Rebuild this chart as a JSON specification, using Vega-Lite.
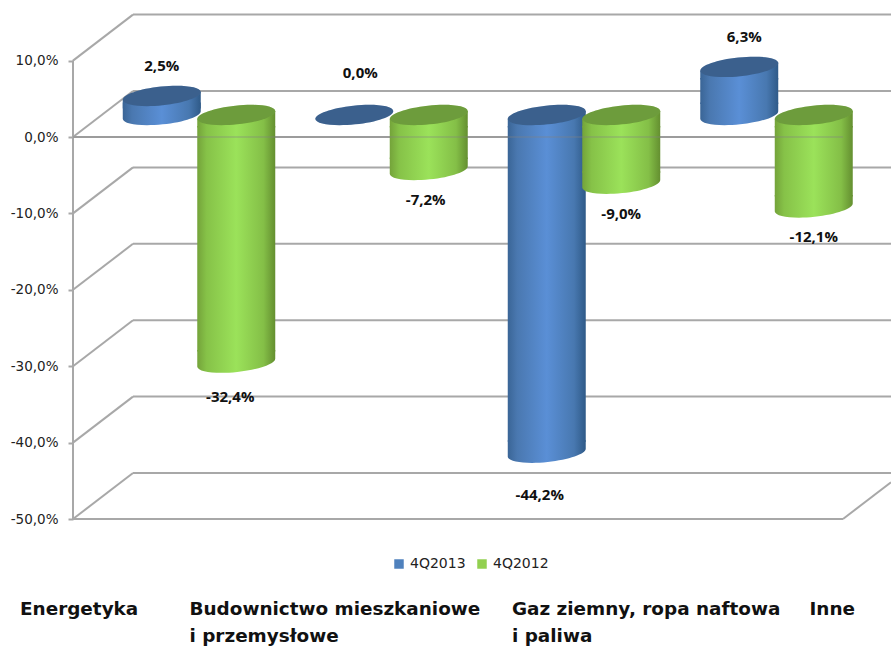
{
"$schema":"https://vega.github.io/schema/vega-lite/v6.json",
"width":818,"height":504,
"autosize":{"type":"none"},
"padding":{"left":73,"top":15,"right":0,"bottom":127},
"background":"white",
"config":{"view":{"stroke":null}},
"data":{"values":[
{"cat":"Energetyka","series":"4Q2013","value":2.5,"label":"2,5%"},
{"cat":"Energetyka","series":"4Q2012","value":-32.4,"label":"-32,4%"},
{"cat":"Budownictwo","series":"4Q2013","value":0.0,"label":"0,0%"},
{"cat":"Budownictwo","series":"4Q2012","value":-7.2,"label":"-7,2%"},
{"cat":"Gaz","series":"4Q2013","value":-44.2,"label":"-44,2%"},
{"cat":"Gaz","series":"4Q2012","value":-9.0,"label":"-9,0%"},
{"cat":"Inne","series":"4Q2013","value":6.3,"label":"6,3%"},
{"cat":"Inne","series":"4Q2012","value":-12.1,"label":"-12,1%"}
]},
"resolve":{"scale":{"x":"independent"}},
"layer":[
{"data":{"values":[
{"a":0,"b":60,"v":10,"w":16.02},{"a":0,"b":60,"v":0,"w":6.02},{"a":0,"b":60,"v":-10,"w":-3.98},{"a":0,"b":60,"v":-20,"w":-13.98},{"a":0,"b":60,"v":-30,"w":-23.98},{"a":0,"b":60,"v":-40,"w":-33.98},{"a":0,"b":60,"v":-50,"w":-43.98},
{"a":60,"b":818,"v":16.02,"w":16.02},{"a":60,"b":818,"v":6.02,"w":6.02},{"a":60,"b":818,"v":-3.98,"w":-3.98},{"a":60,"b":818,"v":-13.98,"w":-13.98},{"a":60,"b":818,"v":-23.98,"w":-23.98},{"a":60,"b":818,"v":-33.98,"w":-33.98},{"a":60,"b":818,"v":-43.98,"w":-43.98},
{"a":0,"b":0,"v":10,"w":-50},{"a":0,"b":770,"v":0,"w":0},{"a":0,"b":770,"v":-50,"w":-50},{"a":770,"b":818,"v":-50,"w":-45.18}
]},
"mark":{"type":"rule","stroke":"#a8a8a8","strokeWidth":2,"clip":false},
"encoding":{
"x":{"field":"a","type":"quantitative","scale":{"domain":[0,818],"nice":false,"zero":false},"axis":null},
"x2":{"field":"b"},
"y":{"field":"v","type":"quantitative","scale":{"domain":[-50,15.97],"nice":false,"zero":false},
"axis":{"title":null,"grid":false,"domain":false,"values":[10,0,-10,-20,-30,-40,-50],"tickColor":"#a8a8a8","tickWidth":2,"tickSize":5,"labelFont":"DejaVu Sans","labelFontSize":13.5,"labelColor":"#222222","labelPadding":10,"labelExpr":"replace(replace(format(datum.value,'.1f'),'.',','),'−','-')+'%'"}},
"y2":{"field":"w"}
}},
{"encoding":{
"x":{"field":"cat","type":"nominal","scale":{"domain":["Energetyka","Budownictwo","Gaz","Inne"],"range":[29.75,799.75],"paddingInner":0,"paddingOuter":0},"axis":null},
"xOffset":{"field":"series","type":"nominal","scale":{"domain":["4Q2013","4Q2012"],"range":[21.75,170.75],"paddingInner":0,"paddingOuter":0}},
"y":{"field":"value","type":"quantitative"}
},
"layer":[
{"transform":[{"filter":"datum.series=='4Q2013' && datum.value<0"}],
"mark":{"type":"point","filled":true,"opacity":1,"size":6147,"yOffset":-22,"shape":"M0.9945,-0.1045 C1.008,0.0278 0.574,0.181 0.0251,0.2387 C-0.524,0.2964 -0.981,0.2368 -0.9945,0.1045 L-0.9945,-0.32 L0.9945,-0.32 Z",
"fill":{"x1":0,"y1":0,"x2":1,"y2":0,"gradient":"linear","stops":[{"offset":0,"color":"#3a6596"},{"offset":0.12,"color":"#4a78b0"},{"offset":0.5,"color":"#5a8fd6"},{"offset":0.85,"color":"#4878b0"},{"offset":1,"color":"#2f5a88"}]}}},
{"transform":[{"filter":"datum.series=='4Q2013' && datum.value>0"}],
"mark":{"type":"point","filled":true,"opacity":1,"size":6147,"yOffset":-22,"shape":"M0.9945,-0.1045 C1.008,0.0278 0.574,0.181 0.0251,0.2387 C-0.524,0.2964 -0.981,0.2368 -0.9945,0.1045 L-0.9945,-0.32 L0.9945,-0.32 Z",
"fill":{"x1":0,"y1":0,"x2":1,"y2":0,"gradient":"linear","stops":[{"offset":0,"color":"#3a6596"},{"offset":0.12,"color":"#4a78b0"},{"offset":0.5,"color":"#5a8fd6"},{"offset":0.85,"color":"#4878b0"},{"offset":1,"color":"#2f5a88"}]}},
"encoding":{"y":{"datum":0,"type":"quantitative"}}},
{"transform":[{"filter":"datum.series=='4Q2013' && abs(datum.value)>3"}],
"mark":{"type":"bar","width":78,"yOffset":{"expr":"datum.value>0?-11:-33"},"y2Offset":{"expr":"datum.value>0?-33:-11"},
"fill":{"x1":0,"y1":0,"x2":1,"y2":0,"gradient":"linear","stops":[{"offset":0,"color":"#3a6596"},{"offset":0.12,"color":"#4a78b0"},{"offset":0.5,"color":"#5a8fd6"},{"offset":0.85,"color":"#4878b0"},{"offset":1,"color":"#2f5a88"}]}},
"encoding":{"y2":{"datum":0}}},
{"transform":[{"filter":"datum.series=='4Q2013' && datum.value>0"}],
"mark":{"type":"point","filled":true,"opacity":1,"size":6147,"yOffset":-22,"shape":"M-0.9945,0.1045 L0.9945,-0.1045 L0.9945,0.32 L-0.9945,0.32 Z",
"fill":{"x1":0,"y1":0,"x2":1,"y2":0,"gradient":"linear","stops":[{"offset":0,"color":"#3a6596"},{"offset":0.12,"color":"#4a78b0"},{"offset":0.5,"color":"#5a8fd6"},{"offset":0.85,"color":"#4878b0"},{"offset":1,"color":"#2f5a88"}]}}},
{"transform":[{"filter":"datum.series=='4Q2013' && datum.value<0"}],
"mark":{"type":"point","filled":true,"opacity":1,"size":6147,"yOffset":-22,"shape":"M-0.9945,0.1045 L0.9945,-0.1045 L0.9945,0.32 L-0.9945,0.32 Z",
"fill":{"x1":0,"y1":0,"x2":1,"y2":0,"gradient":"linear","stops":[{"offset":0,"color":"#3a6596"},{"offset":0.12,"color":"#4a78b0"},{"offset":0.5,"color":"#5a8fd6"},{"offset":0.85,"color":"#4878b0"},{"offset":1,"color":"#2f5a88"}]}},
"encoding":{"y":{"datum":0,"type":"quantitative"}}},

{"transform":[{"filter":"datum.series=='4Q2012' && datum.value<0"}],
"mark":{"type":"point","filled":true,"opacity":1,"size":6147,"yOffset":-22,"shape":"M0.9945,-0.1045 C1.008,0.0278 0.574,0.181 0.0251,0.2387 C-0.524,0.2964 -0.981,0.2368 -0.9945,0.1045 L-0.9945,-0.32 L0.9945,-0.32 Z",
"fill":{"x1":0,"y1":0,"x2":1,"y2":0,"gradient":"linear","stops":[{"offset":0,"color":"#74a33a"},{"offset":0.12,"color":"#86c248"},{"offset":0.5,"color":"#9be25a"},{"offset":0.85,"color":"#84bf47"},{"offset":1,"color":"#648f30"}]}}},
{"transform":[{"filter":"datum.series=='4Q2012' && abs(datum.value)>3"}],
"mark":{"type":"bar","width":78,"yOffset":{"expr":"datum.value>0?-11:-33"},"y2Offset":{"expr":"datum.value>0?-33:-11"},
"fill":{"x1":0,"y1":0,"x2":1,"y2":0,"gradient":"linear","stops":[{"offset":0,"color":"#74a33a"},{"offset":0.12,"color":"#86c248"},{"offset":0.5,"color":"#9be25a"},{"offset":0.85,"color":"#84bf47"},{"offset":1,"color":"#648f30"}]}},
"encoding":{"y2":{"datum":0}}},
{"transform":[{"filter":"datum.series=='4Q2012' && datum.value<0"}],
"mark":{"type":"point","filled":true,"opacity":1,"size":6147,"yOffset":-22,"shape":"M-0.9945,0.1045 L0.9945,-0.1045 L0.9945,0.32 L-0.9945,0.32 Z",
"fill":{"x1":0,"y1":0,"x2":1,"y2":0,"gradient":"linear","stops":[{"offset":0,"color":"#74a33a"},{"offset":0.12,"color":"#86c248"},{"offset":0.5,"color":"#9be25a"},{"offset":0.85,"color":"#84bf47"},{"offset":1,"color":"#648f30"}]}},
"encoding":{"y":{"datum":0,"type":"quantitative"}}},

{"transform":[{"filter":"datum.value>=0"}],
"mark":{"type":"point","filled":true,"opacity":1,"size":6147,"yOffset":-22,"shape":"M0.9945,-0.1045 C1.008,0.0278 0.574,0.181 0.0251,0.2387 C-0.524,0.2964 -0.981,0.2368 -0.9945,0.1045 C-1.008,-0.0278 -0.574,-0.181 -0.0251,-0.2387 C0.524,-0.2964 0.981,-0.2368 0.9945,-0.1045 Z"},
"encoding":{"color":{"field":"series","type":"nominal","scale":{"domain":["4Q2013","4Q2012"],"range":["#4f81bd","#92d050"]},"legend":{"title":null,"orient":"none","legendX":319,"legendY":542,"direction":"horizontal","columns":2,"symbolType":"square","symbolSize":90,"symbolOpacity":1,"symbolStrokeWidth":0,"labelFont":"DejaVu Sans","labelFontSize":14,"labelColor":"#222222","labelOffset":4,"columnPadding":9}}}},
{"transform":[{"filter":"datum.value>=0"}],
"mark":{"type":"point","filled":true,"opacity":0.25,"color":"#000000","size":6147,"yOffset":-22,"shape":"M0.9945,-0.1045 C1.008,0.0278 0.574,0.181 0.0251,0.2387 C-0.524,0.2964 -0.981,0.2368 -0.9945,0.1045 C-1.008,-0.0278 -0.574,-0.181 -0.0251,-0.2387 C0.524,-0.2964 0.981,-0.2368 0.9945,-0.1045 Z"}},
{"transform":[{"filter":"datum.value<0"}],
"mark":{"type":"point","filled":true,"opacity":1,"size":6147,"yOffset":-22,"shape":"M0.9945,-0.1045 C1.008,0.0278 0.574,0.181 0.0251,0.2387 C-0.524,0.2964 -0.981,0.2368 -0.9945,0.1045 C-1.008,-0.0278 -0.574,-0.181 -0.0251,-0.2387 C0.524,-0.2964 0.981,-0.2368 0.9945,-0.1045 Z"},
"encoding":{"y":{"datum":0,"type":"quantitative"},"color":{"field":"series","type":"nominal"}}},
{"transform":[{"filter":"datum.value<0"}],
"mark":{"type":"point","filled":true,"opacity":0.25,"color":"#000000","size":6147,"yOffset":-22,"shape":"M0.9945,-0.1045 C1.008,0.0278 0.574,0.181 0.0251,0.2387 C-0.524,0.2964 -0.981,0.2368 -0.9945,0.1045 C-1.008,-0.0278 -0.574,-0.181 -0.0251,-0.2387 C0.524,-0.2964 0.981,-0.2368 0.9945,-0.1045 Z"},
"encoding":{"y":{"datum":0,"type":"quantitative"}}},
{"mark":{"type":"text","font":"Open Sans","fontWeight":"bold","fontSize":15,"color":"#111111",
"dx":{"expr":"datum.value==0?6:datum.value==6.3?5:datum.value==-7.2?-3:datum.value==-32.4?-6:datum.value==-44.2?-7:0"},
"dy":{"expr":"datum.value==0?-64:datum.value>0?-52:datum.value<-40?20:datum.value<-30?12:8"}},
"encoding":{"text":{"field":"label"}}}
]},
{"data":{"values":[{"a":0,"b":770,"v":0}]},
"mark":{"type":"rule","stroke":"#808080","strokeWidth":2,"opacity":0.3},
"encoding":{
"x":{"field":"a","type":"quantitative","scale":{"domain":[0,818],"nice":false,"zero":false},"axis":null},
"x2":{"field":"b"},
"y":{"field":"v","type":"quantitative"}
}},
{"data":{"values":[
{"cat":"Energetyka","name":"Energetyka"},
{"cat":"Budownictwo","name":"Budownictwo mieszkaniowe\n i przemysłowe"},
{"cat":"Gaz","name":"Gaz ziemny, ropa naftowa\n i paliwa"},
{"cat":"Inne","name":"Inne"}
]},
"mark":{"type":"text","font":"DejaVu Sans","fontWeight":"bold","fontSize":18.4,"color":"#111111","align":"left","baseline":"top","lineBreak":"\n","lineHeight":27,"clip":false,
"dy":81,
"dx":{"expr":"datum.cat=='Energetyka'?-179:datum.cat=='Budownictwo'?-202:datum.cat=='Gaz'?-72:33"}},
"encoding":{
"x":{"field":"cat","type":"nominal","scale":{"domain":["Energetyka","Budownictwo","Gaz","Inne"],"range":[29.75,799.75],"paddingInner":0,"paddingOuter":0},"axis":null},
"y":{"datum":-50,"type":"quantitative"},
"text":{"field":"name"}
}}
]
}
